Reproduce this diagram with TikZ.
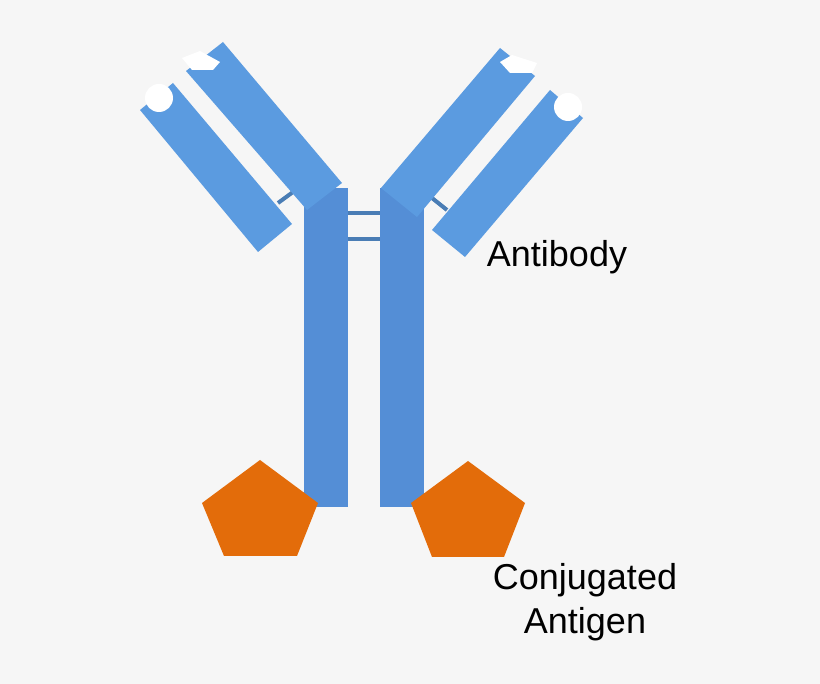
\documentclass[tikz,border=0pt]{standalone}
\usepackage{fontspec}
\setmainfont{Liberation Sans}
\begin{document}
\begin{tikzpicture}[x=1pt,y=-1pt,
  arm/.style={fill=armblue},
  heavy/.style={fill=heavyblue},
  whitecap/.style={fill=white},
  link/.style={draw=linkblue,line width=4pt},
  antigen/.style={fill=antorange},
  lbl/.style={font=\fontsize{36}{44}\selectfont,align=center}]
\definecolor{armblue}{HTML}{5B9BE0}
\definecolor{heavyblue}{HTML}{548ED6}
\definecolor{linkblue}{HTML}{4A7DB5}
\definecolor{antorange}{HTML}{E36C0A}
\fill[fill={rgb,255:red,246;green,246;blue,246}] (0,0) rectangle (820,684);
\useasboundingbox (0,0) rectangle (820,684);
% links
\coordinate (l1a) at (278,203); \coordinate (l1b) at (293,192);
\coordinate (l2a) at (432,198); \coordinate (l2b) at (447,210);
\draw[link] (l1a) -- (l1b);
\draw[link] (l2a) -- (l2b);
\coordinate (h1a) at (348,213); \coordinate (h1b) at (380,213);
\coordinate (h2a) at (348,239); \coordinate (h2b) at (380,239);
\draw[link] (h1a) -- (h1b);
\draw[link] (h2a) -- (h2b);
% heavy chains
\fill[heavy] (304,188) rectangle (348,507);
\fill[heavy] (380,188) rectangle (424,507);
% heavy arms
\fill[arm] (223,42) -- (342,183) -- (307,210) -- (186,71) -- cycle;
\fill[arm] (500,48) -- (535,76) -- (417,217) -- (381,188) -- cycle;
% light chains
\fill[arm] (140,110) -- (173,83) -- (292,224) -- (258,252) -- cycle;
\fill[arm] (550,90) -- (583,118) -- (465,257) -- (432,230) -- cycle;
% caps
\fill[whitecap] (159,98) circle (14);
\fill[whitecap] (568,107) circle (14);
\fill[whitecap] (182,58) -- (200,51) -- (220,62) -- (213,70) -- (192,70) -- cycle;
\fill[whitecap] (500,62) -- (512,55) -- (537,63) -- (532,73) -- (510,73) -- cycle;
% antigens
\fill[antigen] (260,460) -- (318,503) -- (297,556) -- (224,556) -- (202,503) -- cycle;
\fill[antigen] (468,461) -- (525,503) -- (504,557) -- (432,557) -- (411,503) -- cycle;
% labels
\node[lbl] (ab) at (557,257) {Antibody};
\node[lbl] (ag) at (585,602) {Conjugated\\Antigen};
\end{tikzpicture}
\end{document}
